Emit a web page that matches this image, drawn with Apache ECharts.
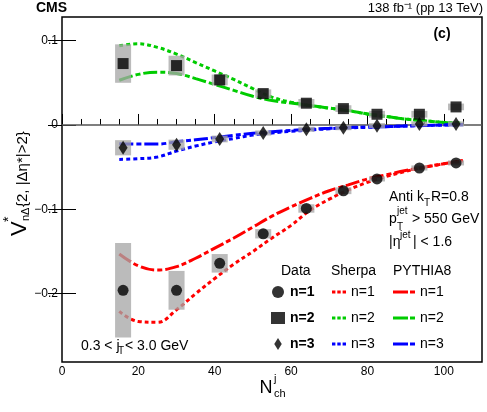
<!DOCTYPE html>
<html>
<head>
<meta charset="utf-8">
<script src="https://cdn.jsdelivr.net/npm/echarts@6/dist/echarts.min.js"></script>
<style>
html,body{margin:0;padding:0;background:#fff;}
#chart{width:487px;height:412px;}
</style>
</head>
<body>
<div id="chart"></div>
<script>
// ---- data ----
const NCH = [16, 30, 41.3, 52.7, 64, 73.7, 82.5, 93.6, 103.2];
const DATA_N1 = [-0.196, -0.196, -0.164, -0.129, -0.099, -0.078, -0.064, -0.051, -0.045];
const SYS_N1  = [0.056, 0.023, 0.011, 0.0055, 0.005, 0.004, 0.003, 0.003, 0.003];
const DATA_N2 = [0.0728, 0.0704, 0.0534, 0.0372, 0.0258, 0.0194, 0.0127, 0.0127, 0.0214];
const SYS_N2  = [0.0228, 0.0117, 0.0064, 0.005, 0.005, 0.004, 0.004, 0.004, 0.004];
const DATA_N3 = [-0.027, -0.0234, -0.0166, -0.0095, -0.0051, -0.0032, -0.0008, 0.0012, 0.0012];
const SYS_N3  = [0.009, 0.006, 0.004, 0.003, 0.003, 0.003, 0.003, 0.003, 0.003];

const CURVE_X = [15, 20, 25, 30, 35, 40, 45, 50, 55, 60, 65, 70, 75, 80, 85, 90, 95, 100, 105];
const SHERPA_N1 = [-0.221, -0.233, -0.234, -0.219, -0.200, -0.182, -0.165, -0.150, -0.134, -0.119, -0.101, -0.088, -0.077, -0.068, -0.061, -0.055, -0.050, -0.046, -0.043];
const PYTHIA_N1 = [-0.153, -0.167, -0.172, -0.168, -0.158, -0.146, -0.134, -0.121, -0.108, -0.097, -0.087, -0.078, -0.071, -0.064, -0.059, -0.054, -0.050, -0.046, -0.042];
const SHERPA_N2 = [0.094, 0.0962, 0.092, 0.084, 0.074, 0.064, 0.054, 0.043, 0.033, 0.027, 0.023, 0.020, 0.017, 0.013, 0.010, 0.007, 0.005, 0.003, 0.002];
const PYTHIA_N2 = [0.053, 0.060, 0.0626, 0.061, 0.055, 0.048, 0.041, 0.034, 0.029, 0.026, 0.023, 0.020, 0.017, 0.013, 0.010, 0.007, 0.005, 0.003, 0.002];
const SHERPA_N3 = [-0.0408, -0.040, -0.038, -0.031, -0.025, -0.020, -0.016, -0.012, -0.0095, -0.0075, -0.006, -0.0045, -0.0035, -0.0028, -0.002, -0.0013, -0.0007, -0.0002, 0.0003];
const PYTHIA_N3 = [-0.0222, -0.0226, -0.0226, -0.020, -0.0175, -0.015, -0.0123, -0.0099, -0.008, -0.0065, -0.005, -0.004, -0.003, -0.0025, -0.002, -0.0012, -0.0006, 0.0, 0.0005];

const X_MAJOR = [0, 20, 40, 60, 80, 100];
const X_MINOR = [5, 10, 15, 25, 30, 35, 45, 50, 55, 65, 70, 75, 85, 90, 95, 105];
const Y_TICKS = [-0.2, -0.1, 0, 0.1];
const ZERO_LINE_X = [0, 110];

// ---- style ----
const FONT = '"Liberation Sans", Arial, Helvetica, sans-serif';
const RED = '#ff0000', GREEN = '#00cc00', BLUE = '#0000ff';
const SHERPA_DASH = [4, 3];
const PYTHIA_DASH = [14, 3, 5, 3];
const SHERPA_ICON = 'path://M0,0h3.4v3h-3.4zM5.3,0h3.4v3h-3.4zM10.6,0h3.4v3h-3.4z';
const PYTHIA_ICON = 'path://M0,0h15v3h-15zM17,0h5v3h-5z';
const BOX_HALF_W = 2.1;
const DIAMOND = 'path://M5,0L10,8L5,16L0,8Z';

const zip = (xs, ys) => xs.map((x, i) => [x, ys[i]]);
const boxes = (ys, sys) => NCH.map((x, i) => [x, ys[i] - sys[i], ys[i] + sys[i]]);

function boxSeries(ys, sys) {
  return {
    type: 'custom', z: 3, silent: true,
    data: boxes(ys, sys),
    renderItem: function (params, api) {
      const x = api.value(0), lo = api.value(1), hi = api.value(2);
      const p1 = api.coord([x - BOX_HALF_W, hi]);
      const p2 = api.coord([x + BOX_HALF_W, lo]);
      return {
        type: 'rect',
        shape: { x: p1[0], y: p1[1], width: p2[0] - p1[0], height: p2[1] - p1[1] },
        style: { fill: '#a6a6a6', opacity: 0.77 }
      };
    }
  };
}
function curve(name, ys, color, dash) {
  return {
    name: name, type: 'line', z: 2, symbol: 'none', smooth: 0.4, silent: true,
    color: color, itemStyle: { color: color },
    data: zip(CURVE_X, ys),
    lineStyle: { color: color, width: 3, type: dash }
  };
}
function points(name, ys, symbol, size) {
  return {
    name: name, type: 'scatter', z: 4, symbol: symbol, symbolSize: size, silent: true,
    data: zip(NCH, ys),
    itemStyle: { color: '#000' }
  };
}

function txt(x, y, s, size, opts) {
  return {
    type: 'text', x: x, y: y, silent: true,
    style: Object.assign({ text: s, fontSize: size, fontFamily: FONT, fill: '#000',
      align: 'left', verticalAlign: 'middle' }, (opts || {}))
  };
}

const chart = echarts.init(document.getElementById('chart'), null, { renderer: 'canvas' });
const legendBase = {
  orient: 'vertical', padding: 0, itemGap: 12, selectedMode: false,
  textStyle: { fontSize: 14, color: '#000', fontFamily: FONT },
  formatter: function (n) { return n.replace(/^\S+ /, ''); }
};
const withIcon = (names, icon) => names.map(n => ({ name: n, icon: icon }));

chart.setOption({
  animation: false,
  backgroundColor: '#fff',
  grid: { left: 62, right: 5, top: 17, bottom: 50, show: true, borderColor: '#000', borderWidth: 1.5, backgroundColor: 'transparent' },
  xAxis: [
    { type: 'value', min: 0, max: 110, position: 'bottom',
      axisLine: { show: false }, splitLine: { show: false },
      axisTick: { inside: true, length: 11, customValues: X_MAJOR, lineStyle: { color: '#000', width: 1 } },
      axisLabel: { customValues: X_MAJOR, fontSize: 12, color: '#000', fontFamily: FONT, margin: 4 } },
    { type: 'value', min: 0, max: 110, position: 'bottom',
      axisLine: { show: false }, splitLine: { show: false }, axisLabel: { show: false },
      axisTick: { inside: true, length: 6, customValues: X_MINOR, lineStyle: { color: '#000', width: 1 } } }
  ],
  yAxis: [
    { type: 'value', min: -0.281, max: 0.128, position: 'left',
      axisLine: { show: false }, splitLine: { show: false },
      axisTick: { inside: true, length: 14, customValues: Y_TICKS, lineStyle: { color: '#000', width: 1 } },
      axisLabel: { customValues: Y_TICKS, fontSize: 12, color: '#000', fontFamily: FONT, margin: 4,
        formatter: function (v) { return v === 0 ? '0' : String(+v.toFixed(2)).replace('-', '\u2212'); } } },
    { type: 'value', min: -0.281, max: 0.128, position: 'right',
      axisLine: { show: false }, splitLine: { show: false }, axisLabel: { show: false },
      axisTick: { inside: true, length: 14, customValues: Y_TICKS, lineStyle: { color: '#000', width: 1 } } }
  ],
  legend: [
    Object.assign({}, legendBase, { left: 271, top: 285, itemWidth: 14, itemHeight: 12,
      textStyle: { fontSize: 14, color: '#000', fontFamily: FONT, fontWeight: 'bold' },
      data: ['Data n=1', 'Data n=2', 'Data n=3'] }),
    Object.assign({}, legendBase, { left: 332, top: 285, itemWidth: 14, itemHeight: 3, itemGap: 12,
      symbolKeepAspect: false,
      data: withIcon(['Sherpa n=1', 'Sherpa n=2', 'Sherpa n=3'], SHERPA_ICON) }),
    Object.assign({}, legendBase, { left: 393, top: 285, itemWidth: 22, itemHeight: 3, itemGap: 12,
      symbolKeepAspect: false,
      data: withIcon(['PYTHIA8 n=1', 'PYTHIA8 n=2', 'PYTHIA8 n=3'], PYTHIA_ICON) })
  ],
  series: [
    { type: 'line', z: 1, symbol: 'none', silent: true, data: zip(ZERO_LINE_X, [0, 0]),
      lineStyle: { color: '#555', width: 1.5 } },
    curve('Sherpa n=1', SHERPA_N1, RED, SHERPA_DASH),
    curve('PYTHIA8 n=1', PYTHIA_N1, RED, PYTHIA_DASH),
    curve('Sherpa n=2', SHERPA_N2, GREEN, SHERPA_DASH),
    curve('PYTHIA8 n=2', PYTHIA_N2, GREEN, PYTHIA_DASH),
    curve('Sherpa n=3', SHERPA_N3, BLUE, SHERPA_DASH),
    curve('PYTHIA8 n=3', PYTHIA_N3, BLUE, PYTHIA_DASH),
    boxSeries(DATA_N1, SYS_N1),
    boxSeries(DATA_N2, SYS_N2),
    boxSeries(DATA_N3, SYS_N3),
    points('Data n=1', DATA_N1, 'circle', 11),
    points('Data n=2', DATA_N2, 'rect', 11),
    points('Data n=3', DATA_N3, DIAMOND, [9, 14])
  ],
  graphic: [
    txt(36, 8, 'CMS', 14, { fontWeight: 'bold' }),
    txt(483, 8, '138 fb\u207B\u00B9 (pp 13 TeV)', 13, { align: 'right' }),
    txt(442, 34, '(c)', 14, { fontWeight: 'bold', align: 'center' }),
    // jet selection
    txt(389, 197, 'Anti k', 14), txt(424, 203, 'T', 10), txt(431, 197, 'R=0.8', 14),
    txt(389, 219, 'p', 14), txt(397, 211, 'jet', 10), txt(397, 227, 'T', 10), txt(412, 219, '> 550 GeV', 14),
    txt(389, 242, '|\u03B7', 14), txt(400, 235, 'jet', 10), txt(413, 242, '| < 1.6', 14),
    txt(81, 346, '0.3 < j', 14), txt(118, 351, 'T', 10), txt(125, 346, '< 3.0 GeV', 14),
    // legend headers
    txt(281, 271, 'Data', 14), txt(331, 271, 'Sherpa', 14), txt(393, 271, 'PYTHIA8', 14),
    // x title
    txt(266, 388, 'N', 18, { align: 'center' }), txt(274, 379, 'j', 11), txt(274, 394, 'ch', 11),
    // y title (rotated)
    { type: 'group', x: 20, y: 236, rotation: Math.PI / 2, silent: true,
      children: [
        txt(0, 0, 'V', 22),
        txt(14, -11, '*', 14),
        txt(15, 6, 'n\u0394', 11),
        txt(29, 2.5, '{2, |\u0394\u03B7*|>2}', 15)
      ] }
  ]
});
</script>
</body>
</html>
